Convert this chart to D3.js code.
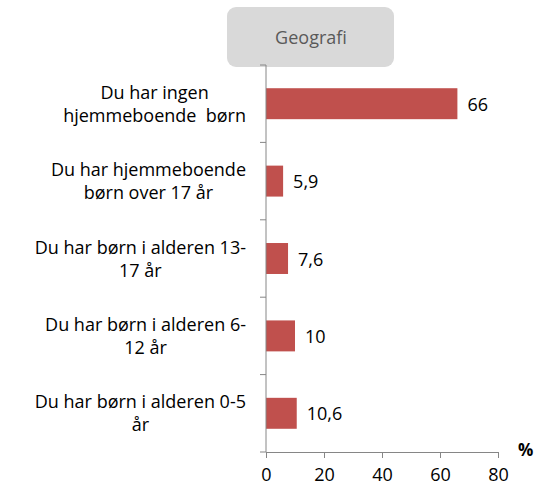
<!DOCTYPE html>
<html>
<head>
<meta charset="utf-8">
<script src="https://cdn.jsdelivr.net/npm/d3@7"></script>
<style>
  body { margin: 0; background: #fff; }
  svg { font-family: "Open Sans", sans-serif; }
</style>
</head>
<body>
<svg id="chart" width="539" height="493"></svg>
<script>
// chart data
const categories = [
    ['Du har ingen', 'hjemmeboende  børn'],
    ['Du har hjemmeboende', 'børn over 17 år'],
    ['Du har børn i alderen 13-', '17 år'],
    ['Du har børn i alderen 6-', '12 år'],
    ['Du har børn i alderen 0-5', 'år']
];
const values = [66, 5.9, 7.6, 10, 10.6];
const valueLabels = ['66', '5,9', '7,6', '10', '10,6'];
const xTicks = [0, 20, 40, 60, 80];
const title = 'Geografi';

const svg = d3.select('#chart');

const x = d3.scaleLinear().domain([0, 80]).range([266, 498]);
const y = d3.scaleBand()
    .domain(d3.range(categories.length))
    .range([65, 452])
    .paddingInner(0.6)
    .paddingOuter(0.3);

// title box
svg.append('rect')
    .attr('x', 227).attr('y', 7)
    .attr('width', 167).attr('height', 60)
    .attr('rx', 9)
    .attr('fill', '#d9d9d9');
svg.append('text')
    .attr('x', 311).attr('y', 44)
    .attr('text-anchor', 'middle')
    .attr('font-size', 18)
    .attr('fill', '#595959')
    .text(title);

// bars
svg.selectAll('.bar')
    .data(values)
    .enter()
    .append('rect')
    .attr('class', 'bar')
    .attr('x', x(0))
    .attr('y', (d, i) => y(i))
    .attr('width', d => x(d) - x(0))
    .attr('height', y.bandwidth())
    .attr('fill', '#c0504d');

// value labels
svg.selectAll('.val')
    .data(values)
    .enter()
    .append('text')
    .attr('class', 'val')
    .attr('x', d => x(d) + 10)
    .attr('y', (d, i) => y(i) + y.bandwidth() / 2 + 7)
    .attr('font-size', 18)
    .attr('fill', '#000')
    .text((d, i) => valueLabels[i]);

// x axis
const xAxis = svg.append('g')
    .attr('transform', 'translate(0,452)')
    .call(d3.axisBottom(x).tickValues(xTicks).tickSize(6).tickPadding(10).tickSizeOuter(0));
xAxis.select('.domain').attr('stroke', '#868686');
xAxis.selectAll('.tick line').attr('stroke', '#868686');
xAxis.selectAll('.tick text')
    .attr('font-family', '"Open Sans", sans-serif')
    .attr('font-size', 18)
    .attr('fill', '#000');

// y axis with category ticks on the band edges
const yEdge = d3.range(categories.length + 1).map(i => 65 + i * (452 - 65) / categories.length);
svg.append('line')
    .attr('x1', x(0)).attr('x2', x(0))
    .attr('y1', 65).attr('y2', 452)
    .attr('stroke', '#868686');
svg.selectAll('.ytick')
    .data(yEdge)
    .enter()
    .append('line')
    .attr('x1', x(0) - 6).attr('x2', x(0))
    .attr('y1', d => d).attr('y2', d => d)
    .attr('stroke', '#868686');

// category labels, centred lines in a right-aligned block
categories.forEach((lines, i) => {
    const g = svg.append('g');
    const cy = y(i) + y.bandwidth() / 2;
    const texts = lines.map((line, j) => g.append('text')
        .attr('y', cy + (j - (lines.length - 1) / 2) * 23 + 6.5)
        .attr('font-size', 18)
        .attr('fill', '#000')
        .attr('text-anchor', 'middle')
        .style('white-space', 'pre')
        .text(line));
    const maxW = d3.max(texts, t => t.node().getComputedTextLength());
    texts.forEach(t => t.attr('x', 246 - maxW / 2));
});

// unit label
svg.append('text')
    .attr('x', 518).attr('y', 456)
    .attr('font-size', 17)
    .attr('font-weight', 'bold')
    .text('%');
</script>
</body>
</html>
